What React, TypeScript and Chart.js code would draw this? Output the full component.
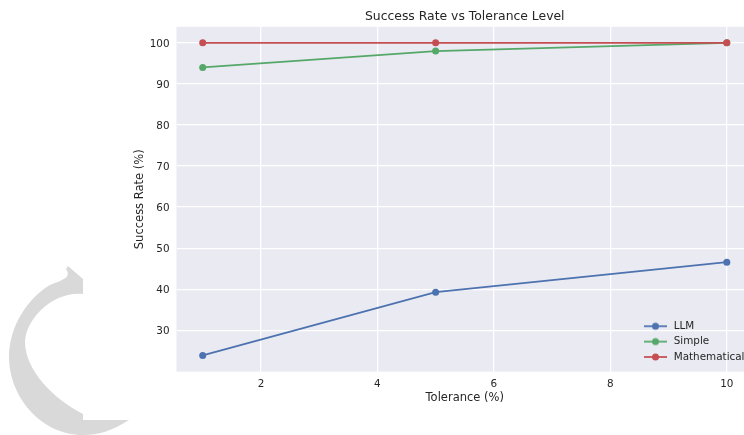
import { useEffect, useRef } from "react";
import { Chart, registerables } from "chart.js";

Chart.register(...registerables);

const tolerance = [1, 5, 10];
const llm = [23.9, 39.3, 46.6];
const simple = [94, 98, 100];
const mathematical = [100, 100, 100];
const xTicks = [2, 4, 6, 8, 10];
const yTicks = [30, 40, 50, 60, 70, 80, 90, 100];
const seriesNames = ["LLM", "Simple", "Mathematical"];
const seriesColors = ["#4c72b0", "#55a868", "#c44e52"];
const FONT = "'DejaVu Sans'";
const INK = "#262626";

function legendMarker(color: string) {
  const c = document.createElement("canvas");
  c.width = 23;
  c.height = 10;
  const g = c.getContext("2d")!;
  g.strokeStyle = color;
  g.lineWidth = 1.75;
  g.beginPath();
  g.moveTo(0, 5);
  g.lineTo(23, 5);
  g.stroke();
  g.fillStyle = color;
  g.beginPath();
  g.arc(11.5, 5, 3.5, 0, Math.PI * 2);
  g.fill();
  return c;
}

const decor = {
  id: "decor",
  afterLayout(chart: any) {
    const lg = chart.legend;
    lg.left = 637.5;
    lg.right = 760;
    lg.top = 316;
    lg.bottom = 372;
  },
  beforeDraw(chart: any) {
    const g = chart.ctx;
    const a = chart.chartArea;
    g.save();
    g.fillStyle = "#eaeaf2";
    g.fillRect(a.left, a.top, a.right - a.left, a.bottom - a.top);
    g.fillStyle = "#d9d9d9";
    g.beginPath();
    g.moveTo(68, 266);
    g.lineTo(83, 279);
    g.lineTo(83, 294);
    g.bezierCurveTo(52, 291, 25, 320, 25, 343);
    g.bezierCurveTo(26, 370, 52, 398, 83, 414);
    g.lineTo(83, 420);
    g.lineTo(129, 420);
    g.bezierCurveTo(112, 431, 98, 435, 83, 435);
    g.bezierCurveTo(40, 435, 8, 395, 9, 355);
    g.bezierCurveTo(10, 325, 28, 298, 50, 285);
    g.bezierCurveTo(62, 280, 72, 278, 66, 269);
    g.closePath();
    g.fill();
    g.restore();
  },
};

export default function App() {
  const ref = useRef<HTMLCanvasElement>(null);
  useEffect(() => {
    const chart = new Chart(ref.current!, {
      type: "line",
      plugins: [decor],
      data: {
        datasets: [llm, simple, mathematical].map((values, i) => ({
          label: seriesNames[i],
          data: values.map((y, k) => ({ x: tolerance[k], y })),
          borderColor: seriesColors[i],
          backgroundColor: seriesColors[i],
          borderWidth: 1.75,
          pointRadius: 3.5,
          pointBorderWidth: 0,
          pointHoverRadius: 3.5,
          tension: 0,
          clip: false,
          order: 3 - i,
        })),
      },
      options: {
        responsive: false,
        animation: false,
        layout: { autoPadding: false, padding: { left: 133.5, right: 0, top: 0, bottom: 30 } },
        plugins: {
          title: {
            display: true,
            text: "Success Rate vs Tolerance Level",
            fullSize: false,
            color: INK,
            font: { family: FONT, size: 12.4, weight: "normal" },
            padding: { top: 9.5, bottom: 2.4 },
          },
          legend: {
            position: "chartArea" as any,
            align: "start",
            labels: {
              color: INK,
              font: { family: FONT, size: 10.4 },
              usePointStyle: true,
              pointStyleWidth: 26,
              padding: 5,
              generateLabels: () =>
                seriesNames.map((text, i) => ({
                  text,
                  datasetIndex: i,
                  fontColor: INK,
                  pointStyle: legendMarker(seriesColors[i]),
                  lineWidth: 0,
                  strokeStyle: "transparent",
                  fillStyle: seriesColors[i],
                })),
            },
          },
        },
        scales: {
          x: {
            type: "linear",
            min: 0.55,
            max: 10.45,
            afterBuildTicks: (s: any) => {
              s.ticks = xTicks.map((value) => ({ value }));
            },
            afterFit: (s: any) => {
              s.height = 33.3;
              s.paddingLeft = 0;
              s.paddingRight = 0;
            },
            grid: { color: "#ffffff", lineWidth: 1.25, drawTicks: false },
            border: { display: false },
            ticks: {
              color: INK,
              font: { family: FONT, size: 10.4 },
              padding: 6,
              maxRotation: 0,
              autoSkip: false,
            },
            title: {
              display: true,
              text: "Tolerance (%)",
              color: INK,
              font: { family: FONT, size: 11.5 },
              padding: 0,
            },
          },
          y: {
            type: "linear",
            min: 19.93,
            max: 103.9,
            afterBuildTicks: (s: any) => {
              s.ticks = yTicks.map((value) => ({ value }));
            },
            afterFit: (s: any) => {
              s.width = 43;
              s.paddingTop = 0;
              s.paddingBottom = 0;
            },
            grid: { color: "#ffffff", lineWidth: 1.25, drawTicks: false },
            border: { display: false },
            ticks: {
              color: INK,
              font: { family: FONT, size: 10.4 },
              padding: 7,
              labelOffset: 1,
              autoSkip: false,
            },
            title: {
              display: true,
              text: "Success Rate (%)",
              color: INK,
              font: { family: FONT, size: 11.5 },
              padding: 0,
            },
          },
        },
      },
    } as any);
    return () => chart.destroy();
  }, []);
  return (
    <div
      style={{
        position: "fixed",
        left: 0,
        top: 0,
        width: 744,
        height: 435,
        overflow: "hidden",
        background: "#ffffff",
      }}
    >
      <canvas ref={ref} width={753} height={435} style={{ display: "block" }} />
    </div>
  );
}
